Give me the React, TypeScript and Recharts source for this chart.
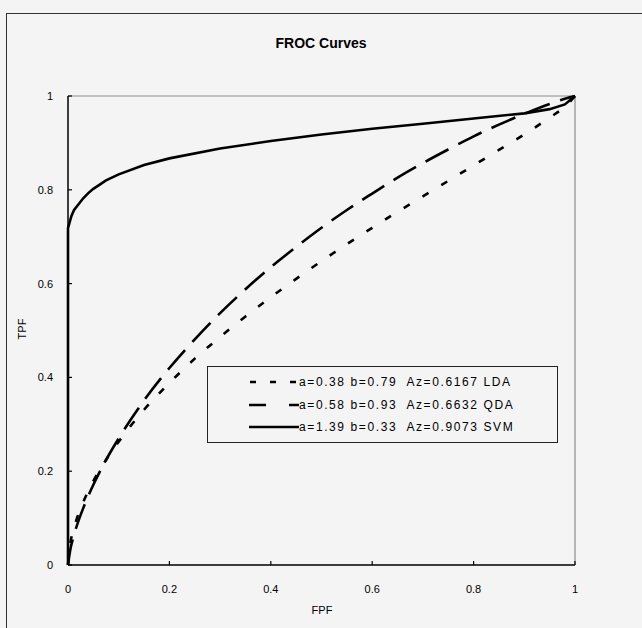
import { LineChart, Line, XAxis, YAxis, ReferenceLine } from 'recharts'

const TICKS = [0, 0.2, 0.4, 0.6, 0.8, 1]
const TICK_LABELS = ['0', '0.2', '0.4', '0.6', '0.8', '1']

// LDA  a=0.38 b=0.79
const LDA_FPF = [0, 0.005, 0.01, 0.02, 0.03, 0.05, 0.075, 0.1, 0.15, 0.2, 0.25, 0.3, 0.35, 0.4, 0.45, 0.5, 0.55, 0.6, 0.65, 0.7, 0.75, 0.8, 0.85, 0.9, 0.95, 0.98, 1]
const LDA_TPF = [0, 0.049, 0.072, 0.107, 0.134, 0.179, 0.224, 0.263, 0.331, 0.388, 0.44, 0.486, 0.53, 0.571, 0.61, 0.648, 0.684, 0.719, 0.753, 0.786, 0.819, 0.852, 0.885, 0.918, 0.954, 0.977, 1]

// QDA  a=0.58 b=0.93
const QDA_FPF = [0, 0.005, 0.01, 0.02, 0.03, 0.05, 0.075, 0.1, 0.15, 0.2, 0.25, 0.3, 0.35, 0.4, 0.45, 0.5, 0.55, 0.6, 0.65, 0.7, 0.75, 0.8, 0.85, 0.9, 0.95, 0.98, 1]
const QDA_TPF = [0, 0.035, 0.057, 0.092, 0.121, 0.171, 0.224, 0.27, 0.351, 0.42, 0.481, 0.537, 0.588, 0.635, 0.678, 0.719, 0.757, 0.792, 0.826, 0.857, 0.886, 0.914, 0.939, 0.962, 0.983, 0.994, 1]

// SVM  a=1.39 b=0.33
const SVM_FPF = [0, 0, 0.003, 0.007, 0.012, 0.02, 0.03, 0.04, 0.05, 0.075, 0.1, 0.15, 0.2, 0.3, 0.4, 0.5, 0.6, 0.7, 0.8, 0.9, 0.95, 0.98, 1]
const SVM_TPF = [0, 0.718, 0.73, 0.745, 0.757, 0.768, 0.782, 0.793, 0.802, 0.82, 0.833, 0.853, 0.867, 0.888, 0.904, 0.918, 0.93, 0.941, 0.952, 0.963, 0.972, 0.982, 1]

const LEGEND_LABELS = [
  'a=0.38 b=0.79  Az=0.6167 LDA',
  'a=0.58 b=0.93  Az=0.6632 QDA',
  'a=1.39 b=0.33  Az=0.9073 SVM',
]

const toPoints = (xs: number[], ys: number[]) => xs.map((x, i) => ({ fpf: x, tpf: ys[i] }))

const FONT = '"Liberation Sans", Arial, sans-serif'

const label = (v: number) => TICK_LABELS[TICKS.findIndex(t => Math.abs(t - v) < 1e-6)] ?? String(v)

const YTick = ({ x, y, payload }: any) => (
  <g>
    <line x1={x} x2={x + 4} y1={y} y2={y} stroke="#000" strokeWidth={1.2} />
    <text x={x - 15} y={y} dy={4} textAnchor="end" fontSize={11} fontFamily={FONT} fill="#000">
      {label(payload.value)}
    </text>
  </g>
)

const XTick = ({ x, y, payload }: any) => (
  <g>
    <line x1={x} x2={x} y1={y} y2={y - 4} stroke="#000" strokeWidth={1.2} />
    <text x={x} y={y + 28} textAnchor="middle" fontSize={11} fontFamily={FONT} fill="#000">
      {label(payload.value)}
    </text>
  </g>
)

const Sample = ({ i }: { i: number }) => (
  <svg width={50} height={8} style={{ display: 'block' }}>
    {i === 0 && (
      <line x1={1} x2={50} y1={4} y2={4} stroke="#000" strokeWidth={2.5} strokeDasharray="6 14" />
    )}
    {i === 1 && (
      <>
        <line x1={0} x2={17} y1={4} y2={4} stroke="#000" strokeWidth={2.5} />
        <line x1={40} x2={50} y1={4} y2={4} stroke="#000" strokeWidth={2.5} />
      </>
    )}
    {i === 2 && <line x1={0} x2={50} y1={4} y2={4} stroke="#000" strokeWidth={2.5} />}
  </svg>
)

export default function App() {
  return (
    <div
      style={{
        position: 'absolute', left: 0, top: 0, width: 642, height: 628,
        background: '#f4f4f4', overflow: 'hidden', fontFamily: FONT,
      }}
    >
      {/* outer frame, runs off the right and bottom edges */}
      <div
        style={{
          position: 'absolute', left: 6, top: 13, width: 900, height: 900,
          borderTop: '1.5px solid #333', borderLeft: '1.5px solid #333',
        }}
      />
      <div style={{ position: 'absolute', left: 0, top: 0 }}>
        <LineChart width={642} height={628} margin={{ top: 96, right: 67, bottom: 33, left: 28 }}>
          <XAxis
            type="number"
            dataKey="fpf"
            domain={[0, 1]}
            ticks={TICKS}
            height={30}
            tickSize={0}
            tickMargin={0}
            tickLine={false}
            axisLine={{ stroke: '#000', strokeWidth: 1.5 }}
            tick={<XTick />}
            allowDuplicatedCategory={false}
          />
          <YAxis
            type="number"
            dataKey="tpf"
            domain={[0, 1]}
            ticks={TICKS}
            width={40}
            tickSize={0}
            tickMargin={0}
            tickLine={false}
            axisLine={{ stroke: '#000', strokeWidth: 1.5 }}
            tick={<YTick />}
          />
          <ReferenceLine y={1} stroke="#8a8a8a" strokeWidth={1.2} />
          <ReferenceLine x={1} stroke="#8a8a8a" strokeWidth={1.2} />
          <Line
            data={toPoints(LDA_FPF, LDA_TPF)}
            dataKey="tpf"
            type="monotone"
            stroke="#000"
            strokeWidth={2.6}
            strokeDasharray="7 15"
            dot={false}
            isAnimationActive={false}
          />
          <Line
            data={toPoints(QDA_FPF, QDA_TPF)}
            dataKey="tpf"
            type="monotone"
            stroke="#000"
            strokeWidth={2.6}
            strokeDasharray="26 11"
            dot={false}
            isAnimationActive={false}
          />
          <Line
            data={toPoints(SVM_FPF, SVM_TPF)}
            dataKey="tpf"
            type="linear"
            stroke="#000"
            strokeWidth={2.6}
            dot={false}
            isAnimationActive={false}
          />
        </LineChart>
      </div>

      {/* title and axis names */}
      <div
        style={{
          position: 'absolute', left: 0, width: 642, top: 35, textAlign: 'center',
          fontSize: 14, fontWeight: 'bold', color: '#000',
        }}
      >
        FROC Curves
      </div>
      <div style={{ position: 'absolute', left: 306, width: 32, top: 604, textAlign: 'center', fontSize: 11, color: '#000' }}>
        FPF
      </div>
      <div
        style={{
          position: 'absolute', left: 6, top: 323, width: 32, textAlign: 'center', fontSize: 11, color: '#000',
          transform: 'rotate(-90deg)',
        }}
      >
        TPF
      </div>

      {/* legend */}
      <div
        style={{
          position: 'absolute', left: 207, top: 366, width: 351, height: 77,
          border: '1px solid #222', boxSizing: 'border-box', paddingTop: 4,
        }}
      >
        {LEGEND_LABELS.map((t, i) => (
          <div key={t} style={{ display: 'flex', alignItems: 'center', height: 22.5, paddingLeft: 41 }}>
            <Sample i={i} />
            <span style={{ fontSize: 12, letterSpacing: 1.6, color: '#000', whiteSpace: 'pre' }}>{t}</span>
          </div>
        ))}
      </div>
    </div>
  )
}
